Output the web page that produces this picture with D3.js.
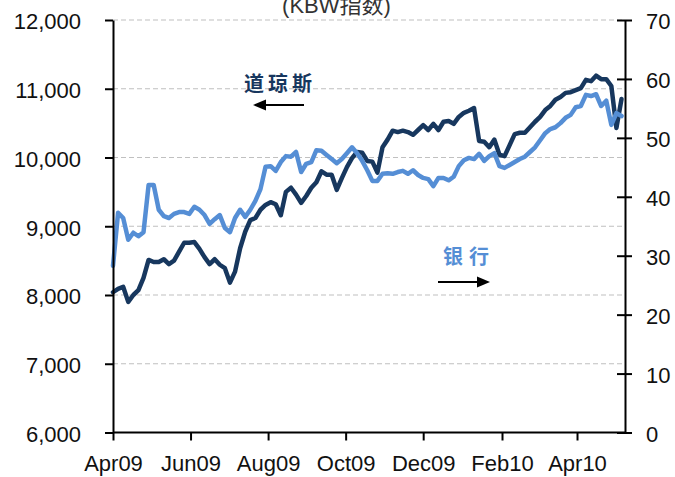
<!DOCTYPE html>
<html>
<head>
<meta charset="utf-8">
<script src="https://cdn.jsdelivr.net/npm/d3@7"></script>
<style>
  html, body { margin: 0; padding: 0; background: #fff; }
  svg { display: block; }
  text { font-family: "Liberation Sans", "Noto Sans CJK SC", sans-serif; }
</style>
</head>
<body>
<svg id="chart" width="675" height="477"></svg>
<script>
// ---------------- data ----------------
const dates = [
  "2009-04-01","2009-04-05","2009-04-09","2009-04-13","2009-04-17","2009-04-21","2009-04-25","2009-04-29",
  "2009-05-03","2009-05-07","2009-05-11","2009-05-15","2009-05-19","2009-05-23","2009-05-27","2009-05-31",
  "2009-06-04","2009-06-08","2009-06-12","2009-06-16","2009-06-20","2009-06-24","2009-06-28",
  "2009-07-02","2009-07-06","2009-07-10","2009-07-14","2009-07-18","2009-07-22","2009-07-26","2009-07-30",
  "2009-08-03","2009-08-07","2009-08-11","2009-08-15","2009-08-19","2009-08-23","2009-08-27","2009-08-31",
  "2009-09-04","2009-09-08","2009-09-12","2009-09-16","2009-09-20","2009-09-24","2009-09-28",
  "2009-10-02","2009-10-06","2009-10-10","2009-10-14","2009-10-18","2009-10-22","2009-10-26","2009-10-30",
  "2009-11-03","2009-11-07","2009-11-11","2009-11-15","2009-11-19","2009-11-23","2009-11-27",
  "2009-12-01","2009-12-05","2009-12-09","2009-12-13","2009-12-17","2009-12-21","2009-12-25","2009-12-29",
  "2010-01-02","2010-01-06","2010-01-10","2010-01-14","2010-01-18","2010-01-22","2010-01-26","2010-01-30",
  "2010-02-03","2010-02-07","2010-02-11","2010-02-15","2010-02-19","2010-02-23","2010-02-27",
  "2010-03-03","2010-03-07","2010-03-11","2010-03-15","2010-03-19","2010-03-23","2010-03-27","2010-03-31",
  "2010-04-04","2010-04-08","2010-04-12","2010-04-16","2010-04-20","2010-04-24","2010-04-28",
  "2010-05-02","2010-05-06"
];

// 道琼斯 (left axis)
const dowValues = [
  8040, 8090, 8120, 7900, 8000, 8070, 8250, 8510, 8480, 8480,
  8520, 8450, 8500, 8630, 8760, 8760, 8770, 8670, 8550, 8450,
  8520, 8440, 8390, 8180, 8340, 8680, 8920, 9090, 9120, 9240,
  9310, 9350, 9320, 9160, 9500, 9560, 9460, 9340, 9440, 9560,
  9640, 9800, 9750, 9750, 9530, 9700, 9860, 9990, 10080, 10070,
  9950, 9940, 9780, 10150, 10260, 10390, 10370, 10390, 10370, 10330,
  10400, 10470, 10400, 10490, 10400, 10520, 10530, 10490, 10590, 10650,
  10680, 10720, 10240, 10230, 10150, 10260, 10040, 10020, 10180, 10340,
  10360, 10360, 10440, 10520, 10590, 10690, 10750, 10840, 10880, 10940,
  10950, 10980, 11010, 11130, 11110, 11190, 11140, 11140, 11040, 10430,
  10850
];

// 银行 (KBW index, right axis)
const bankValues = [
  28.3, 37.3, 36.4, 32.7, 33.9, 33.3, 34.0, 42.0, 42.0, 37.8,
  36.7, 36.4, 37.1, 37.4, 37.4, 37.1, 38.3, 37.8, 36.9, 35.4,
  36.2, 36.9, 34.7, 34.0, 36.4, 37.8, 36.6, 37.8, 39.3, 41.3,
  45.1, 45.2, 44.4, 45.9, 46.9, 46.8, 47.6, 44.2, 45.6, 45.9,
  47.9, 47.8, 47.1, 46.4, 45.7, 46.4, 47.4, 48.4, 47.4, 46.1,
  44.5, 42.7, 42.7, 43.9, 44.0, 43.9, 44.2, 44.4, 43.9, 44.5,
  43.7, 43.2, 43.0, 41.8, 43.2, 43.2, 42.8, 43.4, 45.2, 46.2,
  46.6, 46.4, 47.3, 46.1, 46.9, 47.4, 45.2, 44.9, 45.4, 45.9,
  46.4, 46.8, 47.6, 48.4, 49.6, 50.8, 51.5, 51.8, 52.5, 53.4,
  53.9, 55.2, 55.4, 57.3, 57.1, 57.4, 55.4, 56.3, 52.2, 54.2,
  53.7
];

const xTickDates  = ["2009-04-01","2009-06-01","2009-08-01","2009-10-01","2009-12-01","2010-02-01","2010-04-01"];
const xTickLabels = ["Apr09","Jun09","Aug09","Oct09","Dec09","Feb10","Apr10"];
const leftTicks   = [6000, 7000, 8000, 9000, 10000, 11000, 12000];
const rightTicks  = [0, 10, 20, 30, 40, 50, 60, 70];

const titleText = "(KBW指数)";
const dowLabel  = "道琼斯";
const bankLabel = "银行";

// ---------------- drawing ----------------
(function () {
const parse = d3.timeParse("%Y-%m-%d");
const svg = d3.select("#chart");

const plotL = 113, plotR = 625, plotT = 20, plotB = 432.5;
const darkColor = "#17375E", lightColor = "#558ED5";

const x = d3.scaleTime()
  .domain([parse("2009-04-01"), new Date(2010, 4, 8, 18)])
  .range([plotL, plotR]);
const yL = d3.scaleLinear().domain([6000, 12000]).range([plotB, plotT]);
const yR = d3.scaleLinear().domain([0, 70]).range([plotB, plotT]);

// gridlines (left axis)
svg.append("g")
  .selectAll("line")
  .data(leftTicks.filter(v => v > 6000))
  .join("line")
  .attr("x1", plotL).attr("x2", plotR)
  .attr("y1", d => yL(d)).attr("y2", d => yL(d))
  .attr("stroke", "#c0c0c0")
  .attr("stroke-width", 1.2)
  .attr("stroke-dasharray", "5,3");

// lines
const dowData = dates.map((d, i) => ({ date: parse(d), v: dowValues[i] }));
const bankData = dates.map((d, i) => ({ date: parse(d), v: bankValues[i] }));

const lineL = d3.line().x(d => x(d.date)).y(d => yL(d.v));
const lineR = d3.line().x(d => x(d.date)).y(d => yR(d.v));

svg.append("path").datum(dowData)
  .attr("d", lineL)
  .attr("fill", "none")
  .attr("stroke", darkColor)
  .attr("stroke-width", 4.5)
  .attr("stroke-linejoin", "round")
  .attr("stroke-linecap", "round");

svg.append("path").datum(bankData)
  .attr("d", lineR)
  .attr("fill", "none")
  .attr("stroke", lightColor)
  .attr("stroke-width", 4.5)
  .attr("stroke-linejoin", "round")
  .attr("stroke-linecap", "round");

// axes
const labelColor = "#111";
const fontSize = "22px";

const gL = svg.append("g").attr("transform", `translate(${plotL},0)`)
  .call(d3.axisLeft(yL).tickValues(leftTicks).tickFormat(d3.format(",")).tickSize(8).tickSizeOuter(0));
const gR = svg.append("g").attr("transform", `translate(${plotR},0)`)
  .call(d3.axisRight(yR).tickValues(rightTicks).tickSize(7).tickSizeOuter(0));
const gB = svg.append("g").attr("transform", `translate(0,${plotB})`)
  .call(d3.axisBottom(x).tickValues(xTickDates.map(parse))
    .tickFormat((d, i) => xTickLabels[i]).tickSize(8).tickSizeOuter(0));

[gL, gR, gB].forEach(g => {
  g.select(".domain").attr("stroke", "#000").attr("stroke-width", 2);
  g.selectAll(".tick line").attr("stroke", "#000").attr("stroke-width", 2);
  g.selectAll("text")
    .attr("fill", labelColor)
    .style("font-family", '"Liberation Sans", sans-serif')
    .style("font-size", fontSize);
});
gL.selectAll("text").attr("x", -32).attr("dy", "0.40em");
gR.selectAll(".tick line").attr("x1", -8);
gR.selectAll("text").attr("x", 21).attr("dy", "0.40em");
gB.selectAll("text").attr("y", 38.5).attr("dy", 0);
gB.select(".domain").attr("d", `M${plotL},0H${plotR}`);

// title
svg.append("text")
  .attr("x", 336.5).attr("y", 12.5)
  .attr("text-anchor", "middle")
  .attr("fill", "#333")
  .style("font-size", "22px")
  .text(titleText);

// annotations
svg.append("text")
  .attr("x", 280).attr("y", 91)
  .attr("text-anchor", "middle")
  .attr("fill", darkColor)
  .attr("font-weight", "bold")
  .attr("letter-spacing", "4px")
  .style("font-family", '"Noto Sans CJK SC", sans-serif')
  .style("font-size", "20px")
  .text(dowLabel);

svg.append("text")
  .attr("x", 469).attr("y", 264)
  .attr("text-anchor", "middle")
  .attr("fill", lightColor)
  .attr("font-weight", "bold")
  .attr("letter-spacing", "6px")
  .style("font-family", '"Noto Sans CJK SC", sans-serif')
  .style("font-size", "20px")
  .text(bankLabel);

// arrows
function arrow(x1, x2, yy) {
  const dir = Math.sign(x2 - x1);
  const headLen = 13, headHalf = 5.5;
  svg.append("line")
    .attr("x1", x1).attr("x2", x2 - dir * headLen)
    .attr("y1", yy).attr("y2", yy)
    .attr("stroke", "#000").attr("stroke-width", 2);
  svg.append("path")
    .attr("d", `M${x2},${yy}L${x2 - dir * headLen},${yy - headHalf}L${x2 - dir * headLen},${yy + headHalf}Z`)
    .attr("fill", "#000");
}
arrow(304, 253, 105);
arrow(438, 490, 282);
})();
</script>
</body>
</html>
